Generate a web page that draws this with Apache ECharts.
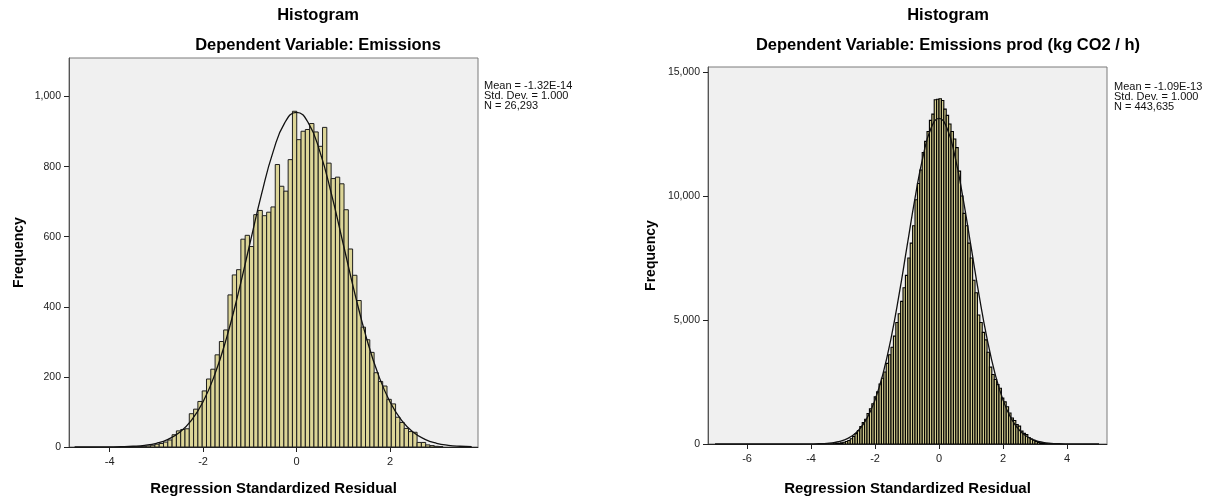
<!DOCTYPE html>
<html><head><meta charset="utf-8">
<script src="https://cdn.jsdelivr.net/npm/echarts@6/dist/echarts.min.js"></script>
<style>html,body{margin:0;padding:0;background:#fff}#c{width:1213px;height:496px}</style>
</head><body><div id="c"></div>
<script>
// ---------- LEFT HISTOGRAM DATA ----------
const leftBinStart = -3.491;
const leftBinWidth = 0.092;
const leftCounts = [1,1,2,3,5,8,10,14,20,35,46,50,52,95,108,130,160,194,222,263,301,334,434,491,506,593,604,572,663,675,660,670,685,806,744,730,820,958,877,901,906,923,899,858,912,810,766,770,751,677,565,490,418,342,306,270,212,187,174,136,123,85,70,53,44,42,13,13,6,4,2,1];
const leftCurveX = [-4.75,-4.5,-4.25,-4,-3.75,-3.5,-3.25,-3,-2.75,-2.5,-2.25,-2,-1.75,-1.5,-1.25,-1,-0.75,-0.5,-0.25,0,0.25,0.5,0.75,1,1.25,1.5,1.75,2,2.25,2.5,2.75,3,3.25,3.5,3.75];
const leftCurveY = [0.01,0.04,0.11,0.32,0.84,2.1,4.9,10.6,21.8,41.9,76.0,129.2,206.6,310.1,437.2,579.2,720.8,842.8,925.6,955,925.6,842.8,720.8,579.2,437.2,310.1,206.6,129.2,76.0,41.9,21.8,10.6,4.9,2.1,0.84];
const leftXTicks = [-4,-2,0,2];
const leftYTicks = [0,200,400,600,800,1000];
const leftStats = ['Mean = -1.32E-14','Std. Dev. = 1.000','N = 26,293'];

// ---------- RIGHT HISTOGRAM DATA ----------
const rightBinStart = -3.6;
const rightBinWidth = 0.075;
const rightCounts = [2,3,5,8,12,20,30,45,70,100,140,210,300,420,540,700,860,1000,1230,1420,1620,1900,2100,2420,2650,2900,3250,3600,3900,4350,4900,5250,5750,6300,6800,7500,8100,8800,9850,10500,11050,11750,12200,12600,13050,13300,13880,13900,
13920,13850,13500,13250,12900,12600,12300,11950,11000,10000,9300,8800,8100,7500,6600,6100,5200,4900,4500,4200,3700,3100,2800,2600,2400,2250,1850,1700,1500,1250,1050,950,780,720,520,430,380,260,200,150,100,60,40,25,15,10,6,4,2];
const rightCurveX = [-7,-6,-5,-4.75,-4.5,-4.25,-4,-3.75,-3.5,-3.25,-3,-2.75,-2.5,-2.25,-2,-1.75,-1.5,-1.25,-1,-0.75,-0.5,-0.25,0,0.25,0.5,0.75,1,1.25,1.5,1.75,2,2.25,2.5,2.75,3,3.25,3.5,3.75,4,4.5,5];
const rightCurveY = [0,0,0.05,0.17,0.53,1.5,4.4,11.6,28.7,66.7,145.7,299,576,1045,1777,2840,4263,6011,7964,9911,11587,12726,13130,12726,11587,9911,7964,6011,4263,2840,1777,1045,576,299,145.7,66.7,28.7,11.6,4.4,0.53,0.05];
const rightXTicks = [-6,-4,-2,0,2,4];
const rightYTicks = [0,5000,10000,15000];
const rightStats = ['Mean = -1.09E-13','Std. Dev. = 1.000','N = 443,635'];

const FONT = '"Liberation Sans", Arial, sans-serif';

function binData(start, w, counts){
  return counts.map((c,i)=>[start + i*w, start + (i+1)*w, c]);
}
function zip(a,b){ return a.map((v,i)=>[v,b[i]]); }
function makeRender(fill, stroke, lw){
  return function(params, api){
    const p0 = api.coord([api.value(0), api.value(2)]);
    const p1 = api.coord([api.value(1), 0]);
    return {type:'rect', shape:{x:p0[0], y:p0[1], width:p1[0]-p0[0], height:p1[1]-p0[1]},
      style:{fill:fill, stroke:stroke, lineWidth:lw}};
  };
}
function fmt(v){ return Number(v).toLocaleString('en-US'); }

function xAxisCfg(idx, min, max, ticks, gap){
  return {type:'value', gridIndex:idx, min:min, max:max,
    name:'Regression Standardized Residual', nameLocation:'middle', nameGap:gap,
    nameTextStyle:{fontFamily:FONT, fontSize:15, fontWeight:'bold', color:'#000'},
    axisLine:{show:true, onZero:false, lineStyle:{color:'#222', width:1}},
    axisTick:{show:true, length:5, lineStyle:{color:'#222'}, customValues:ticks},
    axisLabel:{color:'#222', fontFamily:FONT, fontSize:11, margin:9, customValues:ticks, formatter:v=>String(v)},
    splitLine:{show:false}};
}
function yAxisCfg(idx, max, ticks, gap){
  return {type:'value', gridIndex:idx, min:0, max:max,
    name:'Frequency', nameLocation:'middle', nameGap:gap, nameRotate:90,
    nameTextStyle:{fontFamily:FONT, fontSize:14, fontWeight:'bold', color:'#000'},
    axisLine:{show:true, onZero:false, lineStyle:{color:'#555', width:1}},
    axisTick:{show:true, length:5, lineStyle:{color:'#222'}, customValues:ticks},
    axisLabel:{color:'#222', fontFamily:FONT, fontSize:10.5, margin:8, customValues:ticks, formatter:fmt},
    splitLine:{show:false}};
}

const chart = echarts.init(document.getElementById('c'), null, {renderer:'canvas'});
chart.setOption({
  animation:false,
  backgroundColor:'#ffffff',
  grid:[
    {left:69, right:1213-478, top:58, bottom:496-447, outerBoundsMode:'none', containLabel:false, show:true, backgroundColor:'#F0F0F0', borderColor:'#7a7a7a', borderWidth:1},
    {left:708, right:1213-1107, top:67, bottom:496-444, outerBoundsMode:'none', containLabel:false, show:true, backgroundColor:'#F0F0F0', borderColor:'#7a7a7a', borderWidth:1}
  ],
  xAxis:[ xAxisCfg(0, -4.87, 3.885, leftXTicks, 34), xAxisCfg(1, -7.22, 5.25, rightXTicks, 37) ],
  yAxis:[ yAxisCfg(0, 1110, leftYTicks, 43), yAxisCfg(1, 15200, rightYTicks, 50) ],
  graphic:[
    {type:'text', x:318, y:15, style:{text:'Histogram', fontFamily:FONT, fontSize:16.5, fontWeight:'bold', fill:'#000', align:'center', verticalAlign:'middle'}},
    {type:'text', x:318, y:45, style:{text:'Dependent Variable: Emissions', fontFamily:FONT, fontSize:16.5, fontWeight:'bold', fill:'#000', align:'center', verticalAlign:'middle'}},
    {type:'text', x:948, y:15, style:{text:'Histogram', fontFamily:FONT, fontSize:16.5, fontWeight:'bold', fill:'#000', align:'center', verticalAlign:'middle'}},
    {type:'text', x:948, y:45, style:{text:'Dependent Variable: Emissions prod (kg CO2 / h)', fontFamily:FONT, fontSize:16.5, fontWeight:'bold', fill:'#000', align:'center', verticalAlign:'middle'}},
    {type:'text', x:484, y:81, style:{text:leftStats.join('\n'), fontFamily:FONT, fontSize:11, lineHeight:10, fill:'#111'}},
    {type:'text', x:1114, y:82, style:{text:rightStats.join('\n'), fontFamily:FONT, fontSize:11, lineHeight:10, fill:'#111'}}
  ],
  series:[
    {type:'custom', xAxisIndex:0, yAxisIndex:0, renderItem:makeRender('#DCD597','#1e1e1e',1), encode:{x:[0,1], y:2}, data:binData(leftBinStart, leftBinWidth, leftCounts), clip:true, z:2},
    {type:'line', xAxisIndex:0, yAxisIndex:0, data:zip(leftCurveX, leftCurveY), smooth:true, showSymbol:false, lineStyle:{color:'#111', width:1.3}, clip:true, z:3},
    {type:'custom', xAxisIndex:1, yAxisIndex:1, renderItem:makeRender('#D6CF90','#000',1.1), encode:{x:[0,1], y:2}, data:binData(rightBinStart, rightBinWidth, rightCounts), clip:true, z:2},
    {type:'line', xAxisIndex:1, yAxisIndex:1, data:zip(rightCurveX, rightCurveY), smooth:true, showSymbol:false, lineStyle:{color:'#111', width:1.3}, clip:true, z:3}
  ]
});
</script></body></html>
